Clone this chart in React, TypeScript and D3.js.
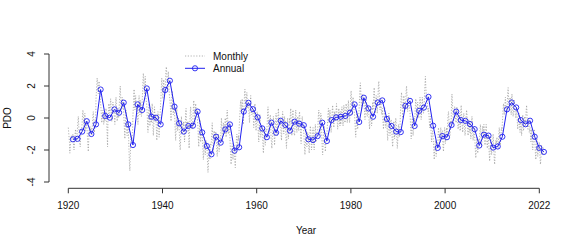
import React from 'react'
import * as d3 from 'd3'

// annual mean PDO, 1920..2022
const annualPDO = [
  -1.33, -1.3, -0.85, -0.2, -1.0, -0.4, 1.78, 0.13, 0.02, 0.54,
  0.33, 0.96, -0.4, -1.69, 0.85, 0.5, 1.85, 0.08, 0.02, -0.4,
  1.75, 2.33, 0.71, -0.33, -0.85, -0.5, -0.48, 0.4, -0.9, -1.75,
  -2.27, -1.17, -1.54, -0.71, -0.4, -2.04, -1.83, 0.4, 0.95, 0.55,
  0.04, -0.65, -1.2, -0.29, -0.92, -0.17, -0.44, -0.79, -0.23, -0.35,
  -0.45, -1.33, -1.38, -1.13, -0.29, -1.44, -0.13, 0.04, 0.08, 0.13,
  0.33, 0.85, -0.25, 1.27, 0.6, 0.08, 0.97, 1.1, -0.06, -0.5,
  -0.85, -0.88, 0.76, 1.07, -0.5, 0.45, 0.65, 1.32, -0.48, -1.87,
  -1.13, -1.2, -0.44, 0.4, -0.13, -0.18, -0.38, -0.7, -1.72, -1.04,
  -1.1, -1.85, -1.78, -1.17, 0.54, 0.97, 0.66, -0.13, -0.39, -0.17,
  -1.17, -1.87, -2.12
]

// monthly PDO, one row per year (Jan..Dec)
const monthlyPDO = [
  [-0.6, -0.9, -1.2, -1.5, -2.2, -1.8, -1.6, -1.4, -1.1, -1.3, -1.2, -1.2],
  [-1.0, -1.4, -1.9, -2.0, -1.6, -1.2, -0.9, -0.7, -1.1, -1.5, -1.3, -1.0],
  [-0.6, -0.2, 0.1, -0.4, -0.9, -1.3, -1.6, -1.8, -1.2, -0.9, -0.8, -0.6],
  [-0.3, 0.2, 0.5, 0.1, -0.3, -0.7, -0.2, 0.3, -0.4, -0.8, -0.6, -0.2],
  [-0.4, -0.8, -1.3, -1.7, -2.1, -1.4, -0.9, -0.6, -0.5, -0.8, -0.9, -0.6],
  [-0.9, -1.1, -0.7, -0.3, 0.2, 0.4, -0.1, -0.6, -0.9, -0.5, -0.1, -0.2],
  [1.2, 1.6, 2.1, 2.5, 2.2, 1.8, 1.5, 2.0, 2.3, 1.7, 1.3, 1.2],
  [0.9, 0.6, 0.2, -0.3, 0.0, 0.1, 0.5, 0.3, -0.4, -0.2, 0.1, -0.2],
  [0.0, 0.3, 0.6, 0.2, -0.4, -1.0, -1.8, -0.2, 0.2, 0.9, 0.8, 0.7],
  [0.3, 0.8, 1.2, 0.9, 0.4, -0.2, 0.1, 0.6, 1.0, 0.7, 0.5, 0.2],
  [0.0, -0.4, 0.2, 0.9, 1.3, 0.8, 0.3, -0.2, 0.4, 0.6, 0.1, 0.0],
  [0.5, 1.1, 1.6, 2.0, 1.4, 0.9, 0.4, 0.7, 1.3, 1.0, 0.6, 1.0],
  [0.3, -0.2, -0.8, -1.3, -0.6, 0.2, 0.5, -0.1, -0.9, -1.1, -0.5, -0.3],
  [-0.8, -1.4, -2.2, -2.9, -3.3, -2.4, -1.6, -1.1, -1.3, -1.5, -1.0, -0.8],
  [0.2, 0.6, 1.3, 1.8, 1.1, 0.5, 0.9, 1.4, 0.8, 0.4, 0.7, 0.5],
  [0.1, -0.4, 0.3, 1.0, 1.4, 0.8, 0.2, 0.6, 1.1, 0.5, 0.1, 0.3],
  [1.0, 1.6, 2.3, 2.8, 2.4, 1.9, 1.5, 2.1, 2.6, 1.8, 1.2, 1.0],
  [0.8, 0.3, -0.4, -0.9, -0.3, 0.4, 0.9, 0.2, -0.5, -0.2, 0.3, 0.0],
  [-0.3, 0.4, 0.9, 0.3, -0.5, -1.1, -0.6, 0.2, 0.7, 0.2, -0.2, 0.2],
  [-0.2, -0.7, -1.4, -1.0, -0.3, 0.4, 0.2, -0.6, -1.2, -0.5, 0.1, 0.4],
  [0.9, 1.4, 2.0, 2.5, 2.1, 1.6, 1.2, 1.9, 2.4, 1.8, 1.5, 1.7],
  [2.0, 2.6, 3.1, 3.2, 2.7, 2.2, 1.8, 2.4, 2.9, 2.1, 1.7, 1.3],
  [1.2, 0.8, 0.3, -0.2, 0.5, 1.3, 1.7, 1.0, 0.4, 0.2, 0.6, 0.7],
  [0.4, -0.2, -0.9, -1.4, -0.8, 0.1, 0.6, -0.1, -0.8, -0.5, 0.0, -0.4],
  [-0.6, -1.2, -1.8, -2.0, -1.3, -0.5, 0.1, -0.4, -1.0, -0.7, -0.3, -0.5],
  [-0.2, -0.7, -1.5, -1.1, -0.4, 0.3, 0.6, -0.1, -0.9, -0.6, -0.2, -0.2],
  [-0.5, -1.2, -1.9, -1.0, -0.2, 0.4, 0.7, 0.2, -0.4, -0.6, -0.7, -0.6],
  [0.1, 0.6, 1.1, 0.7, 0.0, -0.4, 0.3, 0.9, 0.5, 0.2, 0.6, 0.2],
  [-0.2, -0.6, -1.3, -1.8, -1.2, -0.5, -0.1, -0.7, -1.5, -1.1, -0.8, -1.0],
  [-1.0, -1.5, -2.1, -2.6, -2.2, -1.6, -1.2, -1.8, -2.3, -1.7, -1.4, -1.6],
  [-1.6, -2.2, -2.9, -3.4, -3.0, -2.4, -1.8, -2.1, -2.6, -1.9, -1.6, -1.7],
  [-1.4, -0.8, -0.3, -0.9, -1.6, -2.1, -1.5, -0.8, -1.2, -1.4, -0.9, -1.1],
  [-0.9, -1.4, -2.0, -2.4, -1.8, -1.3, -1.0, -1.5, -2.1, -1.6, -1.2, -1.3],
  [-1.2, -0.6, 0.0, -0.5, -1.1, -1.5, -0.9, -0.3, -0.6, -1.0, -0.5, -0.3],
  [0.0, -0.5, -1.2, -0.8, 0.2, 0.5, 0.1, -0.6, -1.0, -0.6, -0.3, -0.6],
  [-1.2, -1.8, -2.4, -2.9, -2.5, -2.0, -1.6, -2.1, -2.6, -2.0, -1.7, -1.7],
  [-2.3, -2.8, -3.1, -2.4, -1.8, -1.3, -1.0, -1.4, -1.9, -1.5, -1.1, -1.4],
  [-0.6, -0.2, 0.3, 0.8, 1.1, 0.7, 0.4, 0.9, 1.2, 0.6, 0.0, -0.4],
  [0.4, 0.9, 1.5, 1.8, 1.3, 0.8, 0.5, 1.1, 1.6, 1.0, 0.6, 0.7],
  [1.0, 0.6, 0.1, -0.3, 0.4, 1.0, 1.4, 0.9, 0.3, 0.2, 0.5, 0.5],
  [0.4, -0.1, -0.6, -0.2, 0.5, 0.9, 0.3, -0.4, -0.8, -0.2, 0.3, 0.4],
  [0.0, -0.5, -1.1, -1.5, -0.9, -0.3, 0.2, -0.4, -1.2, -1.0, -0.6, -0.5],
  [-0.7, -1.2, -1.8, -2.2, -1.6, -1.0, -0.6, -1.1, -1.7, -1.0, -0.7, -0.8],
  [-0.8, -0.3, 0.3, 0.7, 0.1, -0.5, -1.0, -0.6, 0.0, 0.2, -0.3, -1.3],
  [-1.5, -1.9, -1.4, -0.8, -0.3, 0.1, -0.5, -1.1, -1.7, -1.2, -0.6, -0.1],
  [0.3, -0.2, -0.7, -1.1, -0.5, 0.2, 0.6, 0.1, -0.4, -0.3, 0.0, -0.1],
  [-0.5, -1.0, -1.4, -0.7, 0.0, 0.4, 0.1, -0.6, -1.0, -0.4, 0.1, -0.3],
  [-0.2, -0.8, -1.5, -1.9, -1.2, -0.5, 0.0, -0.7, -1.3, -0.9, -0.4, 0.0],
  [-0.4, 0.2, 0.6, 0.1, -0.6, -1.1, -0.4, 0.3, 0.5, -0.2, -0.8, -1.0],
  [-1.1, -0.7, 0.0, 0.5, 0.2, -0.4, -0.9, -0.5, 0.1, 0.0, -0.6, -0.8],
  [0.2, 0.4, -0.1, -0.6, -1.2, -1.6, -0.9, -0.2, 0.1, -0.4, -0.6, -0.5],
  [-0.9, -1.4, -1.9, -2.3, -1.7, -1.1, -0.7, -1.2, -1.8, -1.3, -0.9, -1.0],
  [-1.2, -1.8, -2.2, -1.6, -0.9, -0.5, -0.8, -1.4, -2.0, -1.7, -1.3, -1.2],
  [-0.6, -1.1, -1.7, -2.0, -1.4, -0.8, -0.4, -0.9, -1.5, -1.3, -0.9, -0.9],
  [-0.8, -0.3, 0.2, 0.5, 0.0, -0.6, -1.0, -0.4, 0.3, 0.2, -0.3, -1.3],
  [-1.9, -2.3, -1.8, -1.2, -0.8, -0.5, -1.0, -1.6, -2.1, -1.7, -1.2, -1.2],
  [-1.0, -0.6, -0.1, 0.3, 0.6, 0.2, -0.3, 0.1, 0.5, 0.0, -0.4, -0.9],
  [-0.5, 0.0, 0.5, 0.8, 0.3, -0.2, -0.6, -0.1, 0.4, 0.1, -0.2, 0.0],
  [0.5, 0.9, 0.4, -0.2, -0.7, -0.4, 0.1, 0.6, 0.2, -0.3, -0.5, 0.4],
  [-0.4, -0.1, 0.3, 0.7, 0.4, -0.1, -0.5, 0.2, 0.8, 0.6, 0.0, -0.3],
  [0.0, 0.5, 0.9, 0.6, 0.1, -0.3, 0.2, 0.8, 1.1, 0.4, -0.1, -0.3],
  [0.3, 0.8, 1.4, 1.7, 1.2, 0.6, 0.2, 0.7, 1.3, 1.0, 0.6, 0.4],
  [0.2, -0.3, -0.8, -1.2, -0.6, 0.1, 0.4, -0.1, -0.7, -0.3, 0.1, 0.2],
  [0.7, 1.3, 1.9, 2.2, 1.7, 1.1, 0.6, 0.9, 1.5, 1.4, 1.0, 0.9],
  [1.2, 0.8, 0.3, -0.1, 0.4, 1.0, 1.3, 0.7, 0.2, 0.1, 0.6, 0.7],
  [0.6, 0.2, -0.4, -0.7, -0.2, 0.3, 0.6, 0.1, -0.5, -0.3, 0.3, 1.0],
  [0.5, 1.0, 1.6, 1.9, 1.3, 0.7, 0.3, 0.8, 1.4, 1.1, 0.7, 0.3],
  [0.9, 1.5, 2.1, 2.3, 1.6, 1.0, 0.5, 0.8, 1.2, 0.7, 0.4, 0.2],
  [0.6, 0.2, -0.3, -0.7, -0.3, 0.3, 0.7, 0.2, -0.5, -0.6, -0.2, -0.1],
  [-0.3, -0.9, -1.4, -1.0, -0.3, 0.3, 0.1, -0.5, -1.1, -0.6, -0.2, -0.1],
  [-0.5, -1.0, -1.5, -1.8, -1.2, -0.6, -0.2, -0.7, -1.3, -0.8, -0.4, 0.0],
  [-0.3, -0.8, -1.4, -1.9, -1.5, -0.9, -0.4, -0.6, -1.2, -0.8, -0.5, 0.2],
  [0.8, 1.3, 1.6, 1.1, 0.5, 0.0, 0.4, 0.9, 1.4, 0.9, 0.4, 0.8],
  [0.6, 1.1, 1.7, 2.0, 1.5, 0.9, 0.4, 0.8, 1.3, 1.1, 0.7, 0.7],
  [0.3, -0.2, -0.8, -1.3, -1.0, -0.4, 0.0, -0.5, -1.1, -0.7, -0.3, 0.0],
  [-0.3, 0.2, 0.8, 1.2, 0.9, 0.4, 0.0, 0.5, 1.0, 0.6, 0.1, 0.0],
  [0.3, 0.8, 1.3, 1.0, 0.4, -0.1, 0.3, 0.9, 1.3, 0.8, 0.5, 0.3],
  [0.5, 1.0, 1.6, 2.1, 2.6, 2.0, 1.5, 1.2, 1.4, 1.0, 0.6, 0.4],
  [0.6, 0.3, -0.1, -0.6, -0.3, 0.1, -0.4, -1.0, -1.5, -1.2, -0.9, -0.8],
  [-1.1, -1.6, -2.2, -2.6, -2.1, -1.7, -1.4, -1.9, -2.4, -2.0, -1.8, -1.6],
  [-1.6, -1.1, -0.6, -0.9, -1.4, -1.8, -1.3, -0.8, -0.6, -1.0, -1.2, -1.3],
  [-0.8, -1.3, -1.8, -2.1, -1.5, -0.9, -0.6, -1.0, -1.6, -1.3, -0.9, -0.6],
  [-1.2, -0.8, -0.3, 0.2, 0.4, 0.0, -0.5, -1.0, -1.1, -0.5, -0.2, -0.3],
  [1.0, 1.5, 1.1, 0.6, 0.1, -0.3, 0.0, 0.4, 0.7, 0.3, 0.0, -0.2],
  [-0.3, 0.3, 0.7, 0.4, -0.2, -0.7, -0.4, 0.1, 0.3, -0.2, -0.8, -0.8],
  [0.4, 0.8, 0.3, -0.2, -0.6, -0.9, -0.4, 0.2, 0.3, -0.3, -0.7, -1.1],
  [-0.8, -0.4, 0.1, 0.5, 0.2, -0.3, -0.8, -1.1, -0.6, -0.1, -0.4, -0.9],
  [-0.2, -0.7, -1.3, -1.0, -0.4, 0.1, -0.3, -0.9, -1.4, -1.1, -0.7, -0.5],
  [-1.1, -1.6, -2.1, -2.5, -2.0, -1.5, -1.2, -1.7, -2.2, -1.9, -1.5, -1.3],
  [-1.6, -1.2, -0.7, -0.4, -0.9, -1.4, -1.8, -1.3, -0.8, -0.5, -0.9, -1.0],
  [-0.4, -0.8, -1.3, -1.7, -1.2, -0.7, -0.4, -0.9, -1.6, -1.9, -1.3, -1.0],
  [-1.3, -1.8, -2.3, -2.7, -2.2, -1.6, -1.2, -1.7, -2.3, -2.0, -1.6, -1.5],
  [-1.0, -1.5, -2.1, -2.6, -2.9, -2.3, -1.8, -1.4, -1.6, -1.4, -1.2, -1.6],
  [-1.6, -1.9, -1.4, -0.9, -0.6, -1.0, -1.5, -1.7, -1.2, -0.8, -0.6, -0.8],
  [-0.3, 0.1, 0.6, 0.9, 0.6, 0.2, 0.5, 1.0, 1.3, 0.8, 0.5, 0.3],
  [0.5, 1.0, 1.6, 1.9, 1.4, 0.9, 0.5, 0.8, 1.3, 1.0, 0.6, 0.2],
  [1.2, 1.5, 1.0, 0.5, 0.1, 0.4, 0.9, 1.1, 0.7, 0.3, 0.2, 0.0],
  [0.4, 0.7, 0.2, -0.3, -0.7, -0.4, 0.1, 0.3, -0.2, -0.6, -0.9, -0.2],
  [-0.1, -0.6, -1.1, -0.7, -0.2, 0.2, -0.3, -0.8, -0.6, -0.1, 0.1, -0.5],
  [-0.4, 0.1, 0.5, 0.8, 0.3, -0.3, -0.7, -0.4, 0.0, -0.2, -0.9, -0.8],
  [-0.6, -1.0, -1.5, -1.1, -0.7, -1.2, -1.8, -2.0, -1.6, -1.0, -0.8, -0.7],
  [-1.2, -1.7, -2.3, -2.6, -2.1, -1.6, -1.3, -1.8, -2.4, -2.1, -1.7, -1.6],
  [-1.5, -2.0, -2.5, -2.9, -2.6, -2.1, -1.7, -1.9, -2.3, -2.2, -1.9, -1.8]
]

const firstYear = 1920
const lastYear = 2022
const xTickLabels = ['1920', '1940', '1960', '1980', '2000', '2022']
const yTicks = [-4, -2, 0, 2, 4]

const font = '"Liberation Sans", Arial, Helvetica, sans-serif'

export default function App() {
  const x = d3.scaleLinear().domain([firstYear, lastYear]).range([68.3, 539.3])
  const y = d3.scaleLinear().domain([-4, 4]).range([182, 54])

  // ticks evenly spread over the whole span of years
  const xTicks = xTickLabels.map((_, i) => firstYear + (i * (lastYear - firstYear)) / (xTickLabels.length - 1))

  const monthly = monthlyPDO.flatMap((row, i) =>
    row.map((v, m) => ({ t: firstYear + i + m / 12, v }))
  )
  const annual = annualPDO.map((v, i) => ({ t: firstYear + i + 1, v }))

  const line = d3.line<{ t: number; v: number }>()
    .x(d => x(d.t))
    .y(d => y(d.v))

  const axisY = 188.3

  return (
    <div style={{ position: 'fixed', left: 0, top: 0 }}>
      <svg width={588} height={249} style={{ display: 'block', background: '#fff' }} fontFamily={font}>
        {/* monthly */}
        <path d={line(monthly) || ''} fill="none" stroke="#a0a0a0" strokeWidth={0.8} strokeDasharray="1.2,1.6" />
        {/* annual */}
        <path d={line(annual) || ''} fill="none" stroke="#2020f0" strokeWidth={1} />
        {annual.map((d, i) => (
          <circle key={i} cx={x(d.t)} cy={y(d.v)} r={2.6} fill="none" stroke="#2020f0" strokeWidth={0.9} />
        ))}

        {/* x axis */}
        <line x1={x(xTicks[0])} x2={x(xTicks[xTicks.length - 1])} y1={axisY} y2={axisY} stroke="#333" />
        {xTicks.map((t, i) => (
          <g key={i}>
            <line x1={x(t)} x2={x(t)} y1={axisY} y2={axisY + 5} stroke="#333" />
            <text x={x(t)} y={209.3} textAnchor="middle" fontSize={10} fill="#111">{xTickLabels[i]}</text>
          </g>
        ))}
        <text x={306} y={234} textAnchor="middle" fontSize={10} fill="#111">Year</text>

        {/* y axis */}
        <line x1={49} x2={49} y1={y(4)} y2={y(-4)} stroke="#333" />
        {yTicks.map(t => (
          <g key={t}>
            <line x1={44} x2={49} y1={y(t)} y2={y(t)} stroke="#333" />
            <text transform={`translate(35.3,${y(t)}) rotate(-90)`} textAnchor="middle" fontSize={10} fill="#111">{t}</text>
          </g>
        ))}
        <text transform={`translate(10.7,${y(0)}) rotate(-90)`} textAnchor="middle" fontSize={10} fill="#111">PDO</text>

        {/* legend */}
        <line x1={185} x2={205} y1={56} y2={56} stroke="#a0a0a0" strokeWidth={0.8} strokeDasharray="1.2,1.6" />
        <text x={213} y={59.6} fontSize={10} fill="#111">Monthly</text>
        <line x1={185} x2={205} y1={68.3} y2={68.3} stroke="#2020f0" strokeWidth={1} />
        <circle cx={195} cy={68.3} r={2.6} fill="none" stroke="#2020f0" strokeWidth={0.9} />
        <text x={213} y={71.9} fontSize={10} fill="#111">Annual</text>
      </svg>
    </div>
  )
}
